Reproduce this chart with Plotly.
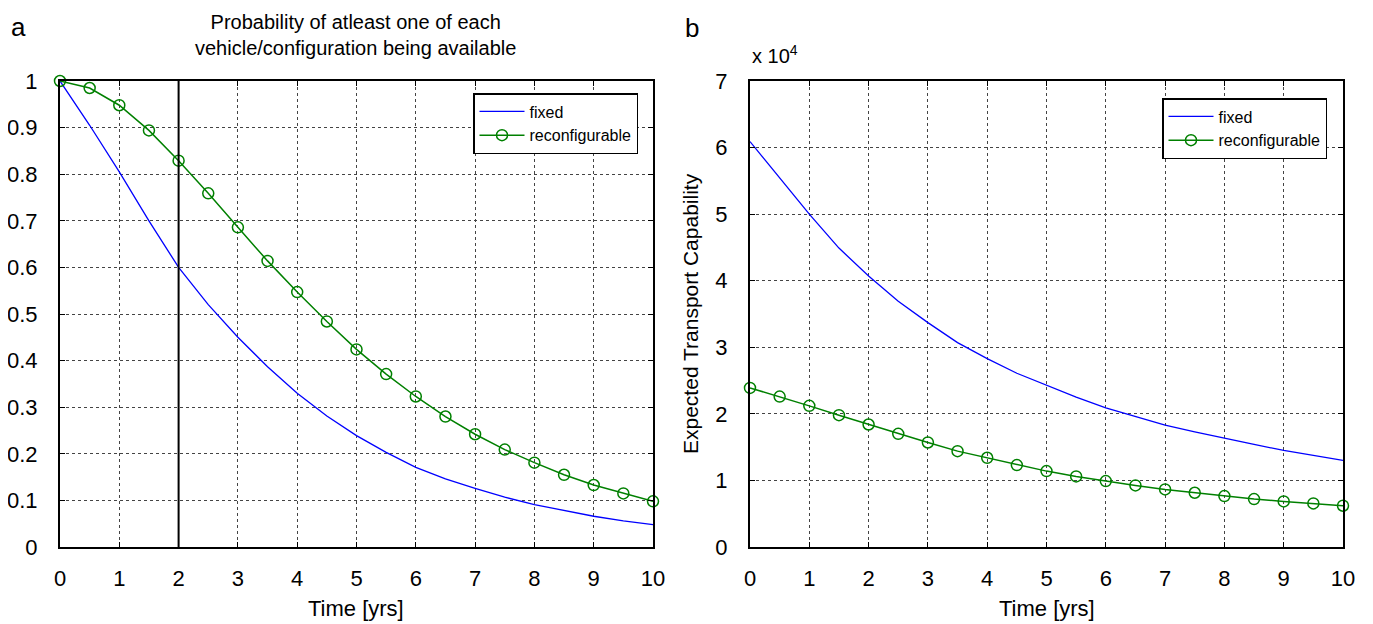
import plotly.graph_objects as go

# time axis (years), sampled every half year
time_yrs = [0, 0.5, 1, 1.5, 2, 2.5, 3, 3.5, 4, 4.5, 5,
            5.5, 6, 6.5, 7, 7.5, 8, 8.5, 9, 9.5, 10]

# panel a: probability of at least one of each vehicle/configuration
prob_fixed = [1.0, 0.905, 0.805, 0.70, 0.60, 0.52, 0.45, 0.387, 0.33, 0.281, 0.239,
              0.203, 0.171, 0.146, 0.126, 0.107, 0.091, 0.078, 0.066, 0.056, 0.048]
prob_reconf = [1.0, 0.985, 0.948, 0.894, 0.829, 0.759, 0.686, 0.614, 0.547, 0.484, 0.424,
               0.371, 0.323, 0.280, 0.242, 0.209, 0.181, 0.155, 0.133, 0.115, 0.098]

# panel b: expected transport capability (x 10^4)
cap_fixed = [6.09, 5.54, 5.0, 4.49, 4.07, 3.69, 3.37, 3.07, 2.83, 2.61, 2.43,
             2.25, 2.09, 1.96, 1.83, 1.73, 1.63, 1.54, 1.45, 1.37, 1.30]
cap_reconf = [2.39, 2.26, 2.12, 1.98, 1.84, 1.70, 1.57, 1.44, 1.34, 1.23, 1.14,
              1.06, 0.99, 0.925, 0.865, 0.815, 0.765, 0.72, 0.685, 0.655, 0.62]

x_ticks = list(range(0, 11))
prob_ticks = [0, 0.1, 0.2, 0.3, 0.4, 0.5, 0.6, 0.7, 0.8, 0.9, 1]
prob_tick_labels = ['0', '0.1', '0.2', '0.3', '0.4', '0.5', '0.6', '0.7', '0.8', '0.9', '1']
cap_ticks = [0, 1, 2, 3, 4, 5, 6, 7]
marked_year = 2

FONT = 'Liberation Sans, Arial, sans-serif'
BLUE = '#0000ff'
GREEN = '#008000'
W, H = 1373, 624
PAGE_OFFSET = 8  # the page body margin shifts the figure by this much


def px_x(px):
    return (px - PAGE_OFFSET) / W


def px_y(py):
    return 1 - (py - PAGE_OFFSET) / H


fig = go.Figure()

fig.add_trace(go.Scatter(x=time_yrs, y=prob_fixed, mode='lines', name='fixed',
                         line=dict(color=BLUE, width=1.3), legend='legend',
                         xaxis='x', yaxis='y'))
fig.add_trace(go.Scatter(x=time_yrs, y=prob_reconf, mode='lines+markers',
                         name='reconfigurable', legend='legend',
                         line=dict(color=GREEN, width=1.5),
                         marker=dict(symbol='circle-open', size=11, color=GREEN,
                                     line=dict(width=1.5)),
                         xaxis='x', yaxis='y', cliponaxis=False))
# vertical marker line at year 2
fig.add_trace(go.Scatter(x=[marked_year, marked_year], y=[0, 1], mode='lines',
                         line=dict(color='black', width=2), showlegend=False,
                         xaxis='x', yaxis='y'))

fig.add_trace(go.Scatter(x=time_yrs, y=cap_fixed, mode='lines', name='fixed',
                         line=dict(color=BLUE, width=1.3), legend='legend2',
                         xaxis='x2', yaxis='y2'))
fig.add_trace(go.Scatter(x=time_yrs, y=cap_reconf, mode='lines+markers',
                         name='reconfigurable', legend='legend2',
                         line=dict(color=GREEN, width=1.5),
                         marker=dict(symbol='circle-open', size=11, color=GREEN,
                                     line=dict(width=1.5)),
                         xaxis='x2', yaxis='y2', cliponaxis=False))

axis_style = dict(showline=True, linecolor='black', linewidth=2, mirror='ticks',
                  ticks='inside', ticklen=5, tickcolor='black', tickwidth=1,
                  showgrid=True, gridcolor='#444444', griddash='dot', gridwidth=1,
                  zeroline=False, automargin=False,
                  tickfont=dict(family=FONT, size=22, color='black'))
x_style = dict(axis_style, ticklabelstandoff=11)
y_style = dict(axis_style, ticklabelstandoff=16)

y_top = px_y(81)
y_bottom = px_y(547)

legend_style = dict(xanchor='right', yanchor='top', bgcolor='white',
                    bordercolor='black', borderwidth=1.5,
                    font=dict(family=FONT, size=16), tracegroupgap=0,
                    itemwidth=45)

fig.update_layout(
    width=W, height=H,
    margin=dict(l=0, r=0, t=0, b=0),
    paper_bgcolor='white', plot_bgcolor='white',
    font=dict(family=FONT, size=20, color='black'),
    xaxis=dict(domain=[px_x(60), px_x(653)], range=[0, 10], tickvals=x_ticks,
               anchor='y', **x_style),
    yaxis=dict(domain=[y_bottom, y_top], range=[0, 1], tickvals=prob_ticks,
               ticktext=prob_tick_labels, anchor='x', **y_style),
    xaxis2=dict(domain=[px_x(750), px_x(1343)], range=[0, 10], tickvals=x_ticks,
                anchor='y2', **x_style),
    yaxis2=dict(domain=[y_bottom, y_top], range=[0, 7], tickvals=cap_ticks,
                anchor='x2', **y_style),
    legend=dict(x=px_x(638), y=px_y(93), **legend_style),
    legend2=dict(x=px_x(1327), y=px_y(98), **legend_style),
    showlegend=True,
    annotations=[
        dict(text='Probability of atleast one of each<br>vehicle/configuration being available',
             x=px_x(356), y=px_y(35), xref='paper', yref='paper',
             xanchor='center', yanchor='middle', showarrow=False,
             font=dict(family=FONT, size=20)),
        dict(text='a', x=px_x(9), y=px_y(27), xref='paper', yref='paper',
             xanchor='left', yanchor='middle', showarrow=False,
             font=dict(family=FONT, size=26)),
        dict(text='b', x=px_x(683), y=px_y(28), xref='paper', yref='paper',
             xanchor='left', yanchor='middle', showarrow=False,
             font=dict(family=FONT, size=26)),
        dict(text='x 10<sup>4</sup>', x=px_x(750), y=px_y(55), xref='paper',
             yref='paper', xanchor='left', yanchor='middle', showarrow=False,
             font=dict(family=FONT, size=20)),
        dict(text='Time [yrs]', x=px_x(356), y=px_y(608), xref='paper', yref='paper',
             xanchor='center', yanchor='middle', showarrow=False,
             font=dict(family=FONT, size=22)),
        dict(text='Time [yrs]', x=px_x(1047), y=px_y(608), xref='paper', yref='paper',
             xanchor='center', yanchor='middle', showarrow=False,
             font=dict(family=FONT, size=22)),
        dict(text='Expected Transport Capability', x=px_x(690), y=px_y(314),
             xref='paper', yref='paper', xanchor='center', yanchor='middle',
             textangle=-90, showarrow=False, font=dict(family=FONT, size=21)),
    ],
)

fig.write_html('out.html')
